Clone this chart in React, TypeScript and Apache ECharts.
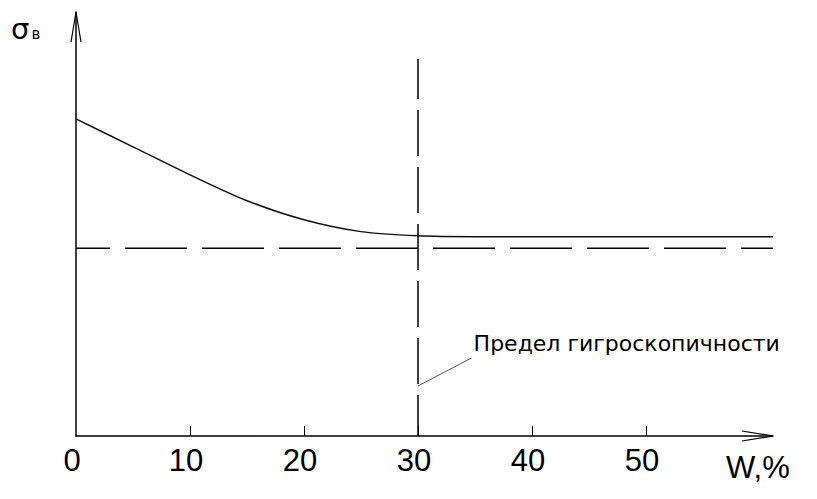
import React, { useEffect, useRef } from "react";
import * as echarts from "echarts";

const xTickLabels = [0, 10, 20, 30, 40, 50];
const xMin = 0;
const xMax = 61.14;
const yMin = 0;
const yMax = 100;
const curveW = [0, 5, 10, 15, 20, 25, 30, 35, 45, 61.14];
const curveSigma = [74.8, 68.2, 61.6, 55.5, 51.0, 48.2, 47.2, 47.0, 47.0, 47.0];
const limitW = 30;
const limitTop = 88.9;
const baselineSigma = 44.3;
const leaderFrom = [30, 11.8];
const leaderTo = [34.7, 18.4];
const annotation = "Предел гигроскопичности";
const xName = "W,%";
const ySymbol = "σ";
const ySub = "в";

const NARROW = "'Liberation Sans', 'DejaVu Sans', sans-serif";
const WIDE = "'DejaVu Sans', sans-serif";

export default function App() {
  const ref = useRef<HTMLDivElement>(null);
  useEffect(() => {
    if (!ref.current) return;
    const chart = echarts.init(ref.current, null, { renderer: "svg" });
    chart.setOption({
      animation: false,
      backgroundColor: "#fff",
      grid: { left: 76, right: 44, top: 12, bottom: 63 },
      xAxis: {
        type: "value",
        min: xMin,
        max: xMax,
        interval: 10,
        splitLine: { show: false },
        axisLine: { show: true, onZero: false, lineStyle: { color: "#000", width: 1.5 } },
        axisTick: {
          show: true,
          inside: true,
          length: 10,
          customValues: xTickLabels.filter((v) => v !== 0),
          lineStyle: { color: "#000", width: 1 },
        },
        axisLabel: {
          show: true,
          customValues: xTickLabels,
          fontSize: 31,
          fontFamily: NARROW,
          color: "#000",
          margin: 9,
          padding: [0, 8, 0, 0],
          formatter: (v: number) => String(v),
        },
      },
      yAxis: {
        type: "value",
        min: yMin,
        max: yMax,
        splitLine: { show: false },
        axisLine: { show: true, onZero: false, lineStyle: { color: "#000", width: 1.5 } },
        axisTick: { show: false },
        axisLabel: { show: false },
      },
      series: [
        {
          type: "line",
          data: curveW.map((w, i) => [w, curveSigma[i]]),
          smooth: 0.3,
          showSymbol: false,
          lineStyle: { color: "#111", width: 1.5 },
        },
        {
          type: "line",
          data: [
            [xMin, baselineSigma],
            [xMax, baselineSigma],
          ],
          showSymbol: false,
          lineStyle: { color: "#000", width: 1.5, type: [62, 15], dashOffset: 28 },
        },
        {
          type: "line",
          data: [
            [limitW, limitTop],
            [limitW, yMin],
          ],
          showSymbol: false,
          lineStyle: { color: "#000", width: 1.5, type: [46, 11], dashOffset: 6 },
        },
        {
          type: "line",
          data: [leaderFrom, leaderTo],
          showSymbol: false,
          lineStyle: { color: "#555", width: 1 },
        },
      ],
    });

    const o = chart.convertToPixel({ gridIndex: 0 }, [xMin, yMin]) as number[];
    const xe = chart.convertToPixel({ gridIndex: 0 }, [xMax, yMin]) as number[];
    const ye = chart.convertToPixel({ gridIndex: 0 }, [xMin, yMax]) as number[];
    const lt = chart.convertToPixel({ gridIndex: 0 }, leaderTo) as number[];

    chart.setOption({
      graphic: [
        {
          type: "polyline",
          shape: { points: [[xe[0] - 31, xe[1] - 5], [xe[0], xe[1]], [xe[0] - 31, xe[1] + 5]] },
          style: { stroke: "#000", fill: "none", lineWidth: 1.2 },
        },
        {
          type: "polyline",
          shape: { points: [[o[0] - 5, ye[1] + 30], [o[0], ye[1]], [o[0] + 5, ye[1] + 30]] },
          style: { stroke: "#000", fill: "none", lineWidth: 1.2 },
        },
        {
          type: "text",
          x: lt[0] + 2,
          y: lt[1] - 14,
          style: {
            text: annotation,
            fontSize: 22,
            fontFamily: WIDE,
            fill: "#000",
            align: "left",
            verticalAlign: "middle",
          },
        },
        {
          type: "text",
          x: xe[0] - 47,
          y: xe[1] + 31,
          style: {
            text: xName,
            fontSize: 31,
            fontFamily: NARROW,
            fill: "#000",
            align: "left",
            verticalAlign: "middle",
          },
        },
        {
          type: "text",
          x: 11,
          y: 29,
          style: {
            text: `{a|${ySymbol}}{b|${ySub}}`,
            verticalAlign: "middle",
            align: "left",
            fill: "#000",
            rich: {
              a: { fontSize: 29, fontFamily: WIDE, fill: "#000", verticalAlign: "bottom" },
              b: { fontSize: 15, fontFamily: WIDE, fill: "#000", verticalAlign: "bottom", padding: [0, 0, 2, 2] },
            },
          },
        },
      ],
    });

    return () => chart.dispose();
  }, []);
  return (
    <div
      ref={ref}
      style={{ position: "fixed", left: 0, top: 0, width: 817, height: 499, background: "#fff" }}
    />
  );
}
